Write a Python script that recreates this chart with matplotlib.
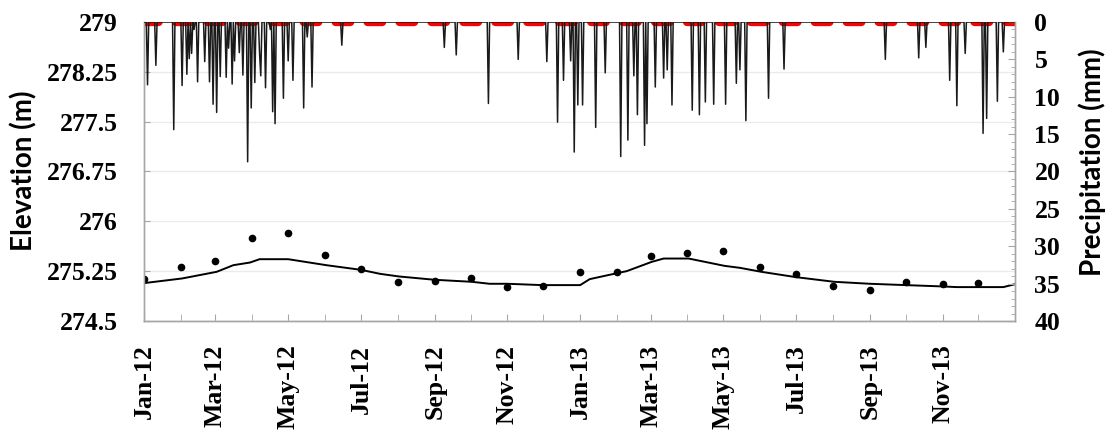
import matplotlib
matplotlib.use("Agg")
import matplotlib.pyplot as plt
import matplotlib.dates as mdates
from matplotlib.ticker import FixedLocator, MultipleLocator
from matplotlib.font_manager import FontProperties
import pandas as pd

plt.rcParams["lines.scale_dashes"] = False

# Observed groundwater elevation (monthly, first of month), m
obs_elev = [275.13, 275.32, 275.41, 275.75, 275.82, 275.49, 275.28, 275.08,
            275.10, 275.14, 275.01, 275.02, 275.23, 275.24, 275.48, 275.52,
            275.56, 275.32, 275.20, 275.03, 274.96, 275.08, 275.06, 275.07]
obs_start = "2012-01-01"

# Simulated elevation, m
sim_dates = ["2012-01-01", "2012-02-02", "2012-03-02", "2012-03-16", "2012-03-30",
             "2012-04-07", "2012-05-01", "2012-06-02", "2012-07-01", "2012-07-17",
             "2012-08-02", "2012-09-01", "2012-10-02", "2012-10-17", "2012-11-01",
             "2012-11-30", "2013-01-01", "2013-01-09", "2013-02-01", "2013-02-09",
             "2013-03-02", "2013-03-12", "2013-04-02", "2013-05-02", "2013-05-15",
             "2013-06-02", "2013-07-01", "2013-08-02", "2013-09-01", "2013-10-01",
             "2013-11-01", "2013-11-13", "2013-12-22", "2013-12-31"]
sim_elev = [275.07, 275.14, 275.24, 275.34, 275.38,
            275.43, 275.43, 275.34, 275.27, 275.21,
            275.17, 275.12, 275.09, 275.06, 275.06,
            275.04, 275.04, 275.13, 275.22, 275.25,
            275.39, 275.44, 275.44, 275.33, 275.30,
            275.24, 275.16, 275.09, 275.06, 275.04,
            275.02, 275.01, 275.01, 275.05]

# Daily precipitation, mm (days without rain are zero)
rain_dates = ["2012-01-04", "2012-01-11", "2012-01-26", "2012-02-02", "2012-02-06",
              "2012-02-08", "2012-02-10", "2012-02-12", "2012-02-15", "2012-02-21",
              "2012-02-25", "2012-02-28", "2012-03-02", "2012-03-05", "2012-03-10",
              "2012-03-12", "2012-03-15", "2012-03-17", "2012-03-21", "2012-03-24",
              "2012-03-28", "2012-03-31", "2012-04-03", "2012-04-07", "2012-04-08",
              "2012-04-12", "2012-04-16", "2012-04-18", "2012-04-20", "2012-04-27",
              "2012-05-01", "2012-05-05", "2012-05-14", "2012-05-17", "2012-05-21",
              "2012-06-15", "2012-09-09", "2012-09-19", "2012-10-16", "2012-11-10",
              "2012-12-04", "2012-12-13", "2012-12-18", "2012-12-24", "2012-12-27",
              "2012-12-30", "2013-01-03", "2013-01-14", "2013-01-22", "2013-02-04",
              "2013-02-10", "2013-02-15", "2013-02-18", "2013-02-24", "2013-02-26",
              "2013-03-05", "2013-03-12", "2013-03-15", "2013-03-19", "2013-04-05",
              "2013-04-11", "2013-04-16", "2013-04-23", "2013-05-03", "2013-05-12",
              "2013-05-15", "2013-05-20", "2013-06-08", "2013-06-21", "2013-09-14",
              "2013-10-12", "2013-10-18", "2013-11-07", "2013-11-13", "2013-11-20",
              "2013-12-05", "2013-12-08", "2013-12-17", "2013-12-22"]
rain_mm = [8.4, 5.8, 14.4, 8.5, 7.0,
           4.9, 4.2, 1.0, 8.0, 5.3,
           8.0, 11.0, 12.1, 7.3, 7.4,
           3.5, 8.3, 5.2, 4.1, 7.1,
           18.7, 11.5, 8.1, 4.2, 7.2,
           8.8, 1.0, 12.0, 13.6, 10.2,
           5.2, 7.8, 11.5, 2.0, 8.7,
           3.1, 3.4, 4.4, 10.9, 5.0,
           5.3, 13.4, 7.8, 5.2, 17.4,
           11.1, 11.1, 14.1, 6.8, 18.0,
           15.8, 7.2, 12.4, 16.5, 13.6,
           8.7, 7.5, 6.4, 11.1, 11.8,
           12.4, 10.7, 11.0, 11.0, 8.2,
           6.4, 13.2, 10.2, 6.3, 5.0,
           4.8, 3.4, 7.8, 11.2, 4.2,
           14.9, 12.9, 10.6, 4.0]

elev_ticks = [274.5, 275.25, 276, 276.75, 277.5, 278.25, 279]
elev_labels = ["274.5", "275.25", "276", "276.75", "277.5", "278.25", "279"]
rain_ticks = [0, 5, 10, 15, 20, 25, 30, 35, 40]

tick_font = dict(family="Liberation Serif", weight="bold", size=18.5)
label_font = dict(family="Lato", weight="bold", size=20)
spine_gray = "#a6a6a6"

obs_dates = pd.date_range(obs_start, periods=len(obs_elev), freq="MS")
days = pd.date_range("2012-01-01", "2013-12-31", freq="D")
rain = pd.Series(rain_mm, index=pd.to_datetime(rain_dates)).reindex(days, fill_value=0.0)

fig = plt.figure(figsize=(11.09, 4.34), dpi=100)
ax = fig.add_axes([0.1298, 0.2604, 0.7854, 0.6889])
ax2 = ax.twinx()

x0, x1 = pd.Timestamp("2012-01-01"), pd.Timestamp("2013-12-31 18:00")

# Elevation axis
ax.set_ylim(274.5, 279)
ax.set_xlim(x0, x1)
ax.set_axisbelow(True)
ax.yaxis.set_major_locator(FixedLocator(elev_ticks))
ax.set_yticklabels(elev_labels, fontdict=tick_font)
ax.grid(axis="y", color="#ebebeb", linewidth=1.0)
ax.plot([x0, x1], [279, 279], color="#ff0000", linewidth=6, dashes=(10.5, 12.5),
        dash_capstyle="round", zorder=1)
ax.plot(pd.to_datetime(sim_dates), sim_elev, color="black", linewidth=1.4, zorder=3)
ax.plot(obs_dates, obs_elev, linestyle="none", marker="o", markersize=4.5,
        color="black", zorder=4)

ax.xaxis.set_major_locator(mdates.MonthLocator(bymonth=[1, 3, 5, 7, 9, 11]))
ax.xaxis.set_minor_locator(mdates.MonthLocator())
ax.xaxis.set_major_formatter(mdates.DateFormatter("%b-%y"))
for lbl in ax.get_xticklabels():
    lbl.set_fontproperties(FontProperties(**tick_font))
    lbl.set_rotation(90)
ax.tick_params(axis="x", which="both", direction="in", length=5, color=spine_gray, pad=17)
ax.tick_params(axis="y", direction="in", length=4, color=spine_gray, pad=19)

# Precipitation axis (inverted)
ax2.plot(rain.index, rain.values, color="#1a1a1a", linewidth=1.1, zorder=5)
ax2.set_ylim(40, 0)
ax2.yaxis.set_major_locator(FixedLocator(rain_ticks))
ax2.yaxis.set_minor_locator(MultipleLocator(1))
ax2.set_yticklabels([str(t) for t in rain_ticks], fontdict=tick_font)
ax2.tick_params(axis="y", which="major", direction="in", length=5, color=spine_gray, pad=14)
ax2.tick_params(axis="y", which="minor", direction="in", length=3, color=spine_gray)

for a in (ax, ax2):
    a.spines["top"].set_visible(False)
    for s in ("left", "right", "bottom"):
        a.spines[s].set_color(spine_gray)
        a.spines[s].set_linewidth(1.0)

fig.text(24 / 1109, 1 - 171 / 434, "Elevation (m)", rotation=90,
         ha="center", va="center", fontdict=label_font)
fig.text(1092 / 1109, 1 - 162 / 434, "Precipitation (mm)", rotation=90,
         ha="center", va="center", fontdict=label_font)

fig.savefig("out.png", dpi=100)
